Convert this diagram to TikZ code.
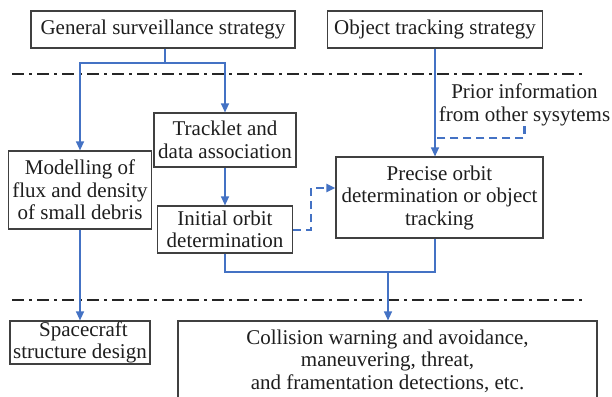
\documentclass[tikz,border=0pt]{standalone}
\usepackage{fontspec}
\setmainfont{Liberation Serif}
\usetikzlibrary{arrows.meta,calc}
\definecolor{lblue}{RGB}{68,114,196}
\definecolor{bord}{RGB}{64,64,64}
\definecolor{txt}{RGB}{30,30,30}
\tikzset{
 box/.style={draw=bord, line width=1.2pt, rectangle, inner sep=0pt, align=center, text=txt, font=\fontsize{21}{22.5}\selectfont},
 plain/.style={inner sep=0pt, align=center, text=txt, font=\fontsize{21}{22.5}\selectfont},
 link/.style={draw=lblue, line width=1.3pt},
 tip/.style={-{Triangle[length=9pt,width=8pt]}},
 arr/.style={link, tip},
 dlink/.style={draw=lblue, line width=2.2pt, dash pattern=on 8pt off 5pt},
 sepline/.style={line width=2.4pt, black!85, dash pattern=on 12pt off 5pt on 3pt off 5pt},
}
\begin{document}
\begin{tikzpicture}[x=1pt,y=-1pt]
\clip (0,0) rectangle (612,396);
\fill[white] (0,0) rectangle (612,396);
% separator lines
\draw[sepline] (12,74) -- (582,74);
\draw[sepline] (12,300) -- (582,300);
% boxes
\node[box, minimum width=264pt, minimum height=37pt] (gss) at (163,29.5) {General surveillance strategy};
\node[box, minimum width=215pt, minimum height=37pt] (ots) at (435,29.5) {Object tracking strategy};
\node[box, minimum width=142pt, minimum height=54pt] (trk) at (225,140) {Tracklet and\\data association};
\node[box, minimum width=143pt, minimum height=78pt] (mod) at (80,190) {Modelling of\\flux and density\\of small debris};
\node[box, minimum width=135pt, minimum height=47pt] (ini) at (225,229.5) {Initial orbit\\determination};
\node[box, minimum width=207pt, minimum height=81pt] (pre) at (439.5,197.5) {Precise orbit\\determination or object\\tracking};
\node[plain] (prior) at (524.5,105) {Prior information\\from other sysytems};
\node[box, minimum width=140pt, minimum height=43pt] (sc) at (80,342.5) {\,\,Spacecraft\\structure design};
\node[box, minimum width=419pt, minimum height=80pt] (col) at (387.5,361) {Collision warning and avoidance,\\maneuvering, threat,\\and framentation detections, etc.};
% connectors
\coordinate (jt) at (165,63);
\draw[link] (jt |- gss.south) -- (jt);
\draw[arr] (jt) -| (mod.north);
\draw[arr] (jt) -| (trk.north);
\draw[arr] (trk.south) -- (ini.north);
\coordinate (pj) at (435,138);
\draw[dlink] (prior.south) |- (pj);
\draw[link] (ots.south) -- (pj);
\draw[arr] (pj) -- (pj |- pre.north);
\coordinate (h188) at (0,188);
\coordinate (h230) at (0,230);
\draw[dlink, tip] (ini.east |- h230) -- ++(18,0) |- (pre.west |- h188);
\coordinate (jb) at (388,272);
\draw[link] (ini.south) -- (ini.south |- jb) -| (ots.south |- pre.south);
\draw[arr] (jb) -- (jb |- col.north);
\draw[arr] (mod.south) -- (sc.north);
\end{tikzpicture}
\end{document}
